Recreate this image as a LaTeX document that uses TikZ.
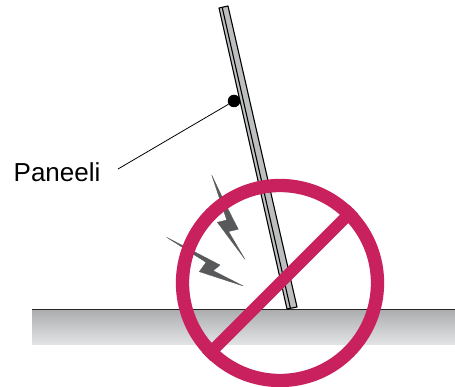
\documentclass[tikz,border=0pt]{standalone}
\usepackage{fontspec}
\setmainfont{Liberation Sans}
\definecolor{ban}{HTML}{C8215D}
\definecolor{bolt}{HTML}{58595B}
\definecolor{panelfill}{HTML}{BCBEC0}
\definecolor{gtop}{HTML}{ABACAE}
\definecolor{gbot}{HTML}{E2E3E4}
\begin{document}
\begin{tikzpicture}[x=1pt,y=-1pt,
  banline/.style={draw=ban,line width=13.3pt},
  slashline/.style={draw=ban,line width=11.8pt},
  boltshape/.style={fill=bolt,draw=bolt,line width=.3pt,line join=miter},
  edge/.style={draw=black,line width=1.1pt}]
\useasboundingbox (0,0) rectangle (455,387);
% ground
\shade[top color=gtop,bottom color=gbot] (32,309) rectangle (455,344);
\draw[draw=black!85,line width=1.5pt] (32,309.5) -- (455,309.5);
% panel
\fill[panelfill] (219,8) -- (228,6) -- (297,307) -- (287,309) -- cycle;
\draw[edge,line join=round] (219,8) -- (228,6) -- (297,307) -- (287,309) -- cycle;
\draw[edge] (222.2,7.4) -- (290.4,308.3);
% bolts
\path[boltshape] (211.7,175) -- (226.7,220) -- (217.3,222.3) -- (245,259.3) -- (228.6,231.5) -- (238.3,229.3) -- (226.2,205.5) -- cycle;
\path[boltshape] (166.7,237.3) -- (220,265) -- (213.3,270.7) -- (243.3,286) -- (199.3,271.7) -- (206,262.3) -- cycle;
% leader
\coordinate (leaderend) at (118,169);
\node[fill=black,circle,inner sep=0pt,minimum size=12.5pt] (dot) at (234,101) {};
\draw[line width=.8pt] (dot) -- (leaderend);
\node[anchor=base west,inner sep=0pt,font=\fontsize{26}{28}\selectfont] (label) at (13.5,181.5) {Paneeli};
% prohibition sign
\node[circle,banline,inner sep=0pt,minimum size=195pt,fill=none] (ring) at (280,283) {};
\draw[slashline] (ring.45) -- (ring.225);
\end{tikzpicture}
\end{document}
